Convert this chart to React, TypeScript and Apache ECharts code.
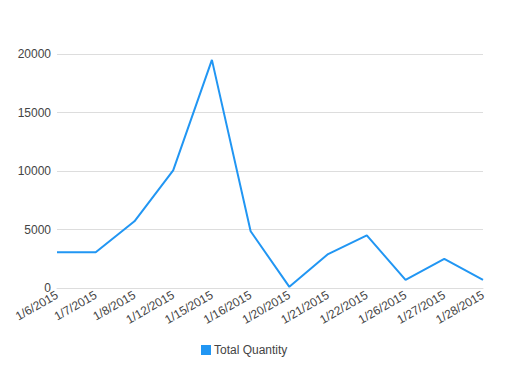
import React, { useEffect, useRef } from "react";
import * as echarts from "echarts";

const categories = ["1/6/2015", "1/7/2015", "1/8/2015", "1/12/2015", "1/15/2015", "1/16/2015", "1/20/2015", "1/21/2015", "1/22/2015", "1/26/2015", "1/27/2015", "1/28/2015"];
const totalQuantity = [3050, 3050, 5700, 10050, 19500, 4850, 100, 2900, 4500, 700, 2480, 700];
const seriesName = "Total Quantity";

export default function App() {
  const ref = useRef<HTMLDivElement>(null);
  useEffect(() => {
    const chart = echarts.init(ref.current!, null, { renderer: "svg" });
    chart.setOption({
      animation: false,
      textStyle: { fontFamily: "Liberation Sans, Arial, sans-serif" },
      grid: { left: 57, right: 22, top: 54, bottom: 82, containLabel: false },
      legend: {
        top: 344,
        left: 201,
        padding: 0,
        icon: "rect",
        itemWidth: 10,
        itemHeight: 10,
        itemGap: 5,
        textStyle: { fontSize: 12, color: "#444", padding: [0, 0, 0, -2] },
        data: [seriesName],
      },
      xAxis: {
        type: "category",
        data: categories,
        boundaryGap: false,
        axisLine: { lineStyle: { color: "#ddd" } },
        axisTick: { show: false },
        axisLabel: { rotate: 30, fontSize: 12, color: "#444", margin: 6, interval: 0 },
      },
      yAxis: {
        type: "value",
        min: 0,
        max: 20000,
        interval: 5000,
        axisLine: { show: false },
        axisTick: { show: false },
        axisLabel: { fontSize: 12, color: "#444", margin: 6, formatter: (v: number) => String(v) },
        splitLine: { lineStyle: { color: "#ddd" } },
      },
      series: [
        {
          name: seriesName,
          type: "line",
          data: totalQuantity,
          symbol: "none",
          lineStyle: { color: "#2196F3", width: 2 },
          itemStyle: { color: "#2196F3" },
        },
      ],
    });
    return () => chart.dispose();
  }, []);
  return <div ref={ref} style={{ width: 505, height: 370, position: "absolute", left: 0, top: 0 }} />;
}
